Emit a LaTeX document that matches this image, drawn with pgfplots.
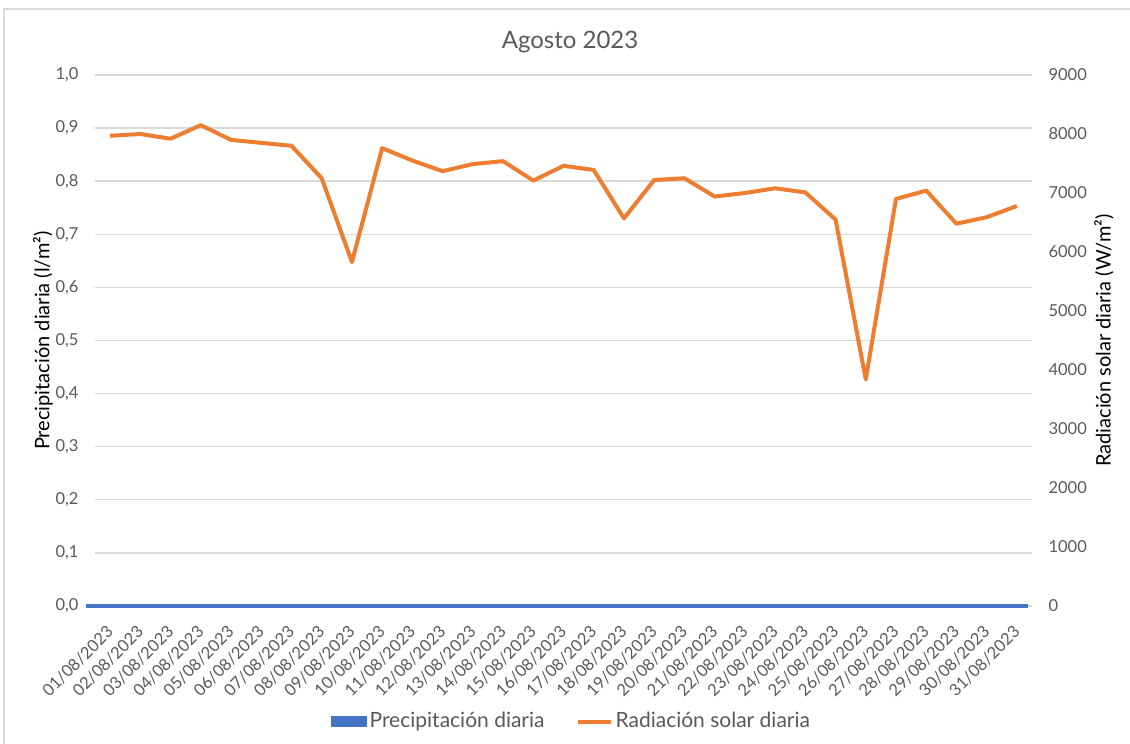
\documentclass[border=0pt]{standalone}
\usepackage{fontspec}
\setmainfont{Lato}
\usepackage{pgfplots}
\usepackage{pgfplotstable}
\pgfplotsset{compat=1.18}
\definecolor{txt}{HTML}{595959}
\definecolor{grd}{HTML}{D9D9D9}
\definecolor{blu}{HTML}{4472C4}
\definecolor{org}{HTML}{ED7D31}

\pgfplotstableread{
x rad
0 7970
1 8000
2 7920
3 8150
4 7900
5 7850
6 7800
7 7250
8 5830
9 7760
10 7550
11 7370
12 7490
13 7540
14 7210
15 7460
16 7390
17 6570
18 7220
19 7250
20 6940
21 7000
22 7080
23 7010
24 6550
25 3840
26 6900
27 7040
28 6480
29 6590
30 6780
}\raddata

\pgfplotstableread{
x p
0 0
1 0
2 0
3 0
4 0
5 0
6 0
7 0
8 0
9 0
10 0
11 0
12 0
13 0
14 0
15 0
16 0
17 0
18 0
19 0
20 0
21 0
22 0
23 0
24 0
25 0
26 0
27 0
28 0
29 0
30 0
}\precdata

\begin{document}
\begin{tikzpicture}
\pgfplotsset{
  common/.style={
    scale only axis, width=468.5pt, height=265.5pt,
    xmin=-0.5, xmax=30.5,
    tick style={draw=none},
    major tick length=0pt,
    tick label style={font=\fontsize{8.25}{10}\selectfont, text=txt},
    label style={font=\fontsize{10.5}{12}\selectfont, text=txt},
  }
}
\begin{axis}[common,
  ymin=0, ymax=1,
  ytick={0,0.1,0.2,0.3,0.4,0.5,0.6,0.7,0.8,0.9,1.0},
  axis x line*=bottom, axis y line*=left,
  separate axis lines,
  x axis line style={draw=blu, line width=2pt, -, shorten <=-4.5pt, shorten >=2pt},
  y axis line style={draw=none},
  ymajorgrids, grid style={grd, line width=0.7pt},
  xtick={0,...,30},
  xticklabels={01/08/2023,02/08/2023,03/08/2023,04/08/2023,05/08/2023,06/08/2023,07/08/2023,08/08/2023,09/08/2023,10/08/2023,11/08/2023,12/08/2023,13/08/2023,14/08/2023,15/08/2023,16/08/2023,17/08/2023,18/08/2023,19/08/2023,20/08/2023,21/08/2023,22/08/2023,23/08/2023,24/08/2023,25/08/2023,26/08/2023,27/08/2023,28/08/2023,29/08/2023,30/08/2023,31/08/2023},
  x tick label style={rotate=45, anchor=east, xshift=-4.6pt, yshift=-8.1pt},
  yticklabel style={xshift=-4.75pt, /pgf/number format/.cd, fixed, fixed zerofill, precision=1, use comma, assume math mode=true},
  every axis y label/.style={at={(axis description cs:-0.0555,0.5)}, rotate=90, anchor=center},
  ylabel={Precipitación diaria (l/m²)},
  title={Agosto 2023},
  every axis title/.style={at={(axis description cs:0.507,1)}, anchor=center, yshift=16.5pt, font=\fontsize{12}{14}\selectfont, text=txt},
]
\coordinate (SW) at (rel axis cs:0,0);
\addplot[blu, line width=2pt, forget plot] table[x=x, y=p]{\precdata};
\end{axis}

\begin{axis}[common,
  ymin=0, ymax=9000,
  ytick={0,1000,2000,3000,4000,5000,6000,7000,8000,9000},
  axis y line*=right, axis x line=none,
  y axis line style={draw=none},
  yticklabel style={xshift=4.75pt, /pgf/number format/.cd, 1000 sep={}, assume math mode=true},
  every axis y label/.style={at={(axis description cs:1.0768,0.5)}, rotate=90, anchor=center},
  ylabel={Radiación solar diaria (W/m²)},
  legend style={draw=none, fill=none, at={(axis description cs:0.509,-0.218)}, anchor=center,
    font=\fontsize{10.5}{12}\selectfont, text=txt, inner sep=0pt,
    nodes={inner sep=1.5pt},
    /tikz/every even column/.append style={column sep=14pt}},
  legend columns=-1,
]
\addlegendimage{legend image code/.code={\fill[blu] (0pt,-2.5pt) rectangle (17.5pt,2.5pt);}}
\addlegendentry{Precipitación diaria}
\addplot[org, line width=2pt, line join=round,
  legend image code/.code={\draw[org, line width=2pt] (0pt,0pt) -- (16.5pt,0pt);}]
  table[x=x, y=rad]{\raddata};
\addlegendentry{Radiación solar diaria}
\end{axis}

\pgfresetboundingbox
\path[use as bounding box] ([shift={(-47.5pt,-69pt)}]SW) rectangle ([shift={(517.5pt,303pt)}]SW);
\draw[grd, line width=0.75pt] ([shift={(-45.5pt,-70pt)}]SW) -- ([shift={(-45.5pt,298.5pt)}]SW) -- ([shift={(518pt,298.5pt)}]SW);
\end{tikzpicture}
\end{document}
